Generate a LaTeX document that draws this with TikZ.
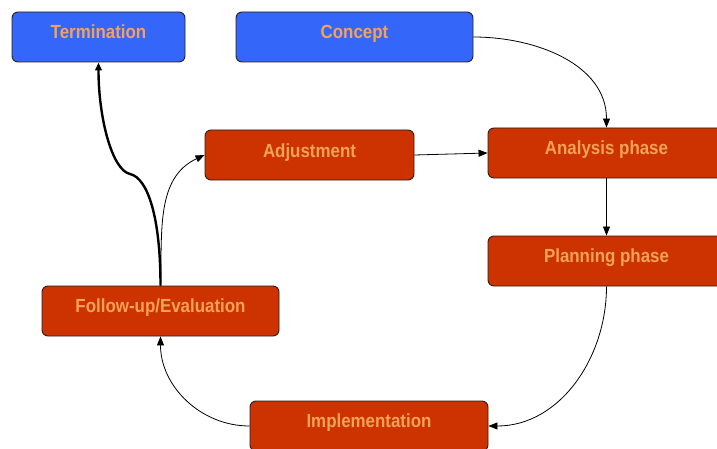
\documentclass[tikz,border=0pt]{standalone}
\usepackage{fontspec}
\newfontfamily\boxfont{Liberation Sans}[FakeStretch=0.89]
\usetikzlibrary{arrows.meta}
\definecolor{boxblue}{RGB}{52,102,250}
\definecolor{boxred}{RGB}{204,51,0}
\definecolor{boxtext}{RGB}{244,162,88}
\definecolor{boxedge}{RGB}{45,30,25}
\begin{document}
\begin{tikzpicture}[x=1pt,y=1pt,
  phase/.style={draw=boxedge, line width=0.9pt, rounded corners=6pt,
    minimum height=50pt, inner sep=0pt, text=boxtext,
    font=\boxfont\bfseries\fontsize{19}{21}\selectfont},
  bluebox/.style={phase, fill=boxblue},
  redbox/.style={phase, fill=boxred},
  flow/.style={draw=black, line width=0.8pt, -{Triangle[length=9pt,width=7pt]}},
  exitflow/.style={draw=black, line width=2.4pt, -{Triangle[length=8pt,width=6.5pt]}}]
\useasboundingbox (0,0) rectangle (717,448);
\clip (0,0) rectangle (717,448);
\fill[white] (0,0) rectangle (717,448);

% boxes
\node[bluebox, minimum width=173pt] (termination) at (98.5,411) {\raisebox{10.5pt}{Termination}};
\node[bluebox, minimum width=237pt] (concept) at (354.5,411) {\raisebox{10.5pt}{Concept}};
\node[redbox, minimum width=209pt] (adjustment) at (309.5,293) {\raisebox{9.5pt}{Adjustment}};
\node[redbox, minimum width=237pt] (analysis) at (606.5,295) {\raisebox{11pt}{Analysis phase}};
\node[redbox, minimum width=237pt] (planning) at (606.5,187) {\raisebox{11pt}{Planning phase}};
\node[redbox, minimum width=237pt] (followup) at (160.5,137) {\raisebox{11pt}{Follow-up/Evaluation}};
\node[redbox, minimum width=238pt] (implementation) at (369,22) {\raisebox{10.5pt}{Implementation}};

% cycle connectors
\draw[flow] (concept.east) to[out=0,in=90] (analysis.north);
\draw[flow] (analysis.south) -- (planning.north);
\draw[flow] (planning.south) to[out=-90,in=0] (implementation.east);
\draw[flow] (implementation.west) to[out=180,in=-90] (followup.south);
\draw[flow] (followup.north) to[out=88,in=205] (adjustment.west);
\draw[flow] (adjustment.east) -- (analysis.west);

% exit to termination
\draw[exitflow] (followup.north) .. controls (160.5,230) and (148,270) .. (130,274)
  .. controls (112,278) and (98.5,330) .. (termination.south);
\end{tikzpicture}
\end{document}
